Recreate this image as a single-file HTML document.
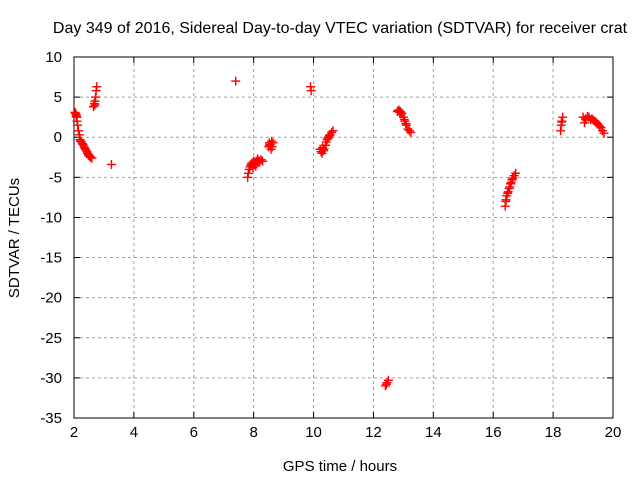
<!DOCTYPE html>
<html><head><meta charset="utf-8"><style>
body{margin:0;background:#fff;}
svg text{font-family:"Liberation Sans",sans-serif;font-size:15px;fill:#000;}
</style></head><body>
<svg id="chart" width="640" height="480">
<text x="340" y="33" text-anchor="middle" style="font-size:16px">Day 349 of 2016, Sidereal Day-to-day VTEC variation (SDTVAR) for receiver crat</text>
<g id="grid"></g><g id="axes"></g><g id="pts"></g>
<text x="340" y="471" text-anchor="middle">GPS time / hours</text>
<text transform="translate(19,238) rotate(-90)" text-anchor="middle">SDTVAR / TECUs</text>
</svg>
<script>
const xTicks=[2,4,6,8,10,12,14,16,18,20];
const yTicks=[10,5,0,-5,-10,-15,-20,-25,-30,-35];
const hours=[2.03,2.05,2.07,2.08,2.1,2.1,2.12,2.15,2.18,2.2,2.22,2.25,2.28,2.3,2.33,2.35,2.38,2.4,2.43,2.45,2.48,2.5,2.53,2.55,2.6,
2.65,2.68,2.7,2.72,2.74,2.76,2.7,3.25,7.4,
7.8,7.82,7.85,7.88,7.9,7.93,7.95,8.0,8.03,8.05,8.08,8.1,8.13,8.15,8.2,8.25,8.3,7.98,8.07,
8.5,8.53,8.55,8.6,8.62,8.65,8.58,8.52,9.9,9.92,
10.22,10.25,10.28,10.3,10.33,10.35,10.4,10.42,10.45,10.48,10.5,10.53,10.55,10.6,10.65,
12.4,12.43,12.45,12.5,
12.8,12.83,12.85,12.88,12.9,12.93,12.95,13.0,13.03,13.05,13.08,13.1,13.15,13.2,13.25,
16.4,16.42,16.43,16.45,16.48,16.5,16.53,16.55,16.58,16.6,16.63,16.65,16.7,16.75,
18.25,18.27,18.3,18.32,18.28,
19.0,19.05,19.08,19.1,19.15,19.2,19.25,19.3,19.35,19.4,19.45,19.5,19.55,19.6,19.65,19.7];
const sdtvar=[3.1,3.0,2.8,2.6,2.5,2.0,1.5,0.8,0.3,-0.3,-0.5,-0.6,-0.8,-0.9,-1.1,-1.3,-1.5,-1.6,-1.8,-2.0,-2.2,-2.3,-2.4,-2.5,-2.6,
3.8,4.2,4.5,5.0,5.8,6.3,4.0,-3.4,7.0,
-5.0,-4.5,-4.0,-3.7,-3.5,-3.3,-3.2,-3.0,-3.4,-3.3,-3.0,-3.1,-2.7,-2.9,-3.0,-2.8,-3.0,-3.8,-3.6,
-1.2,-1.0,-0.9,-0.5,-1.2,-0.7,-1.5,-0.7,6.3,5.8,
-1.5,-1.8,-2.0,-1.3,-1.7,-1.5,-1.0,-0.6,-0.3,-0.1,0.0,0.2,0.3,0.6,0.8,
-31.0,-30.8,-30.6,-30.3,
3.2,3.3,3.4,3.1,3.2,2.9,3.0,2.5,2.2,2.0,1.7,1.5,1.0,0.8,0.6,
-8.6,-8.0,-7.8,-7.3,-7.0,-6.8,-6.4,-6.2,-5.8,-5.6,-5.3,-5.1,-4.8,-4.5,
0.8,1.5,2.0,2.5,1.9,
2.5,1.8,2.3,2.2,2.6,2.5,2.2,2.3,2.1,2.0,1.8,1.6,1.4,1.2,0.8,0.5];
const L=74,R=613,T=57,B=418;
const sx=h=>L+(h-2)/18*(R-L);
const sy=v=>T+(10-v)/45*(B-T);
const NS="http://www.w3.org/2000/svg";
function mk(t,a,p){const e=document.createElementNS(NS,t);for(const k in a)e.setAttribute(k,a[k]);p.appendChild(e);return e;}
const grid=document.getElementById('grid'),axes=document.getElementById('axes'),pts=document.getElementById('pts');
xTicks.forEach(t=>{const x=sx(t);
 if(t>2&&t<20){const g=mk('line',{x1:x,x2:x,y1:T,y2:B,stroke:'#a0a0a0','stroke-dasharray':'3,3'},grid);
 
 }
 mk('line',{x1:x,x2:x,y1:B,y2:B-6,stroke:'#000'},axes);mk('line',{x1:x,x2:x,y1:T,y2:T+6,stroke:'#000'},axes);
 const tx=mk('text',{x:x,y:B+19,'text-anchor':'middle'},axes);tx.textContent=t;
 
 });
yTicks.forEach(t=>{const y=sy(t);
 if(t<10&&t>-35){const g=mk('line',{x1:L,x2:R,y1:y,y2:y,stroke:'#a0a0a0','stroke-dasharray':'3,3'},grid);
 
 }
 mk('line',{x1:L,x2:L+6,y1:y,y2:y,stroke:'#000'},axes);mk('line',{x1:R,x2:R-6,y1:y,y2:y,stroke:'#000'},axes);
 const tx=mk('text',{x:L-12,y:y+5,'text-anchor':'end'},axes);tx.textContent=t;
 
 });
const fr=mk('rect',{x:L,y:T,width:R-L,height:B-T,fill:'none',stroke:'#000'},axes);


hours.forEach((h,i)=>{const x=sx(h),y=sy(sdtvar[i]);
 const p=mk('path',{d:`M${x-4.5},${y}H${x+4.5}M${x},${y-4.5}V${y+4.5}`,stroke:'#f00','stroke-width':1.4},pts);
 
 });
</script>
</body></html>
